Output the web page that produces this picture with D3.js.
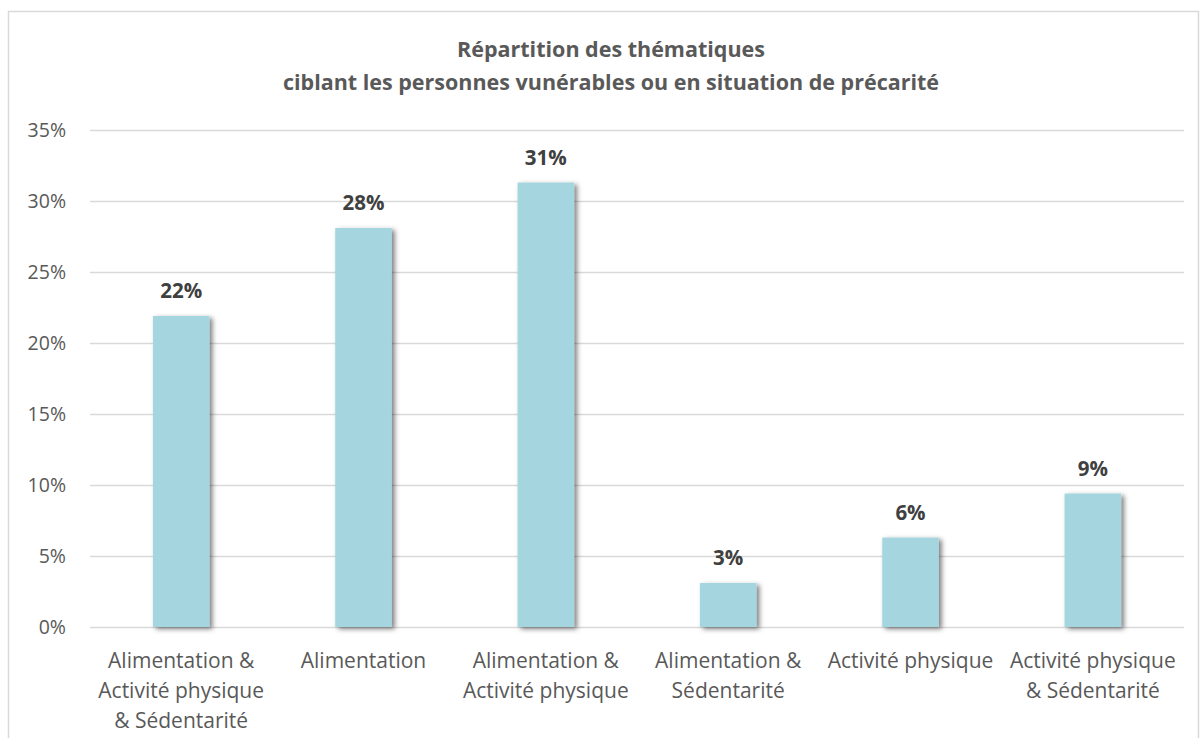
<!DOCTYPE html>
<html>
<head>
<meta charset="utf-8">
<script src="https://cdn.jsdelivr.net/npm/d3@7"></script>
<style>
  body { margin: 0; background: #fff; }
  text { font-family: "Open Sans", sans-serif; }
</style>
</head>
<body>
<div id="chart"></div>
<script>
// data
var categories = [
  ["Alimentation &", "Activité physique", "& Sédentarité"],
  ["Alimentation"],
  ["Alimentation &", "Activité physique"],
  ["Alimentation &", "Sédentarité"],
  ["Activité physique"],
  ["Activité physique", "& Sédentarité"]
];
var values = [21.9, 28.1, 31.3, 3.1, 6.3, 9.4];
var valueLabels = ["22%", "28%", "31%", "3%", "6%", "9%"];
var yTicks = [0, 5, 10, 15, 20, 25, 30, 35];
var titleLines = ["Répartition des thématiques",
                  "ciblant les personnes vunérables ou en situation de précarité"];

var W = 1200, H = 738;
var margin = {top: 130, right: 16, bottom: 111, left: 90},
    width = W - margin.left - margin.right,
    height = H - margin.top - margin.bottom;

var root = d3.select("#chart").append("svg")
    .attr("width", W)
    .attr("height", H);

// shadow filter
var defs = root.append("defs");
var f = defs.append("filter").attr("id", "shadow")
    .attr("x", "-20%").attr("y", "-20%").attr("width", "150%").attr("height", "150%");
f.append("feDropShadow")
    .attr("dx", 3).attr("dy", 2)
    .attr("stdDeviation", 2.5)
    .attr("flood-color", "#000")
    .attr("flood-opacity", 0.5);

// chart frame
root.append("rect")
    .attr("x", 8.5).attr("y", 11.5)
    .attr("width", 1190).attr("height", 740)
    .attr("fill", "none")
    .attr("stroke", "#d9d9d9")
    .attr("stroke-width", 1.5);

// title
root.append("g").selectAll("text")
  .data(titleLines)
  .enter()
  .append("text")
    .attr("x", 611)
    .attr("y", function (d, i) { return 57 + i * 33; })
    .attr("text-anchor", "middle")
    .style("font-size", "21.5px")
    .style("font-weight", "bold")
    .style("fill", "#595959")
    .text(function (d) { return d; });

var svg = root.append("g")
    .attr("transform", "translate(" + margin.left + "," + margin.top + ")");

var x = d3.scaleBand()
    .domain(d3.range(categories.length))
    .range([0, width])
    .paddingInner(0.69)
    .paddingOuter(0.345);

var y = d3.scaleLinear()
    .domain([0, 35])
    .range([height, 0]);

// gridlines + y labels
var yAxis = svg.append("g")
    .call(d3.axisLeft(y).tickValues(yTicks)
      .tickSize(-width)
      .tickFormat(function (d) { return d + "%"; }));
yAxis.select(".domain").remove();
yAxis.selectAll(".tick line")
    .attr("stroke", "#d9d9d9")
    .attr("stroke-width", 1.5);
yAxis.selectAll(".tick text")
    .attr("x", -24)
    .style("font-size", "19.5px")
    .style("font-family", "'Open Sans', sans-serif")
    .style("fill", "#595959");

// bars
svg.append("g")
  .selectAll("rect")
  .data(values)
  .enter()
  .append("rect")
    .attr("x", function (d, i) { return x(i); })
    .attr("y", function (d) { return y(d); })
    .attr("width", x.bandwidth())
    .attr("height", function (d) { return height - y(d); })
    .attr("fill", "#a5d6df")
    .attr("filter", "url(#shadow)");

// value labels
svg.append("g")
  .selectAll("text")
  .data(values)
  .enter()
  .append("text")
    .attr("x", function (d, i) { return x(i) + x.bandwidth() / 2; })
    .attr("y", function (d) { return y(d) - 18; })
    .attr("text-anchor", "middle")
    .style("font-size", "20.5px")
    .style("font-weight", "bold")
    .style("fill", "#404040")
    .text(function (d, i) { return valueLabels[i]; });

// category labels
var cat = svg.append("g")
  .selectAll("text")
  .data(categories)
  .enter()
  .append("text")
    .attr("x", function (d, i) { return x(i) + x.bandwidth() / 2; })
    .attr("y", height + 41)
    .attr("text-anchor", "middle")
    .style("font-size", "21px")
    .style("fill", "#595959");
cat.selectAll("tspan")
  .data(function (d) { return d; })
  .enter()
  .append("tspan")
    .attr("x", function () { return d3.select(this.parentNode).attr("x"); })
    .attr("dy", function (d, i) { return i === 0 ? 0 : 30; })
    .text(function (d) { return d; });
</script>
</body>
</html>
